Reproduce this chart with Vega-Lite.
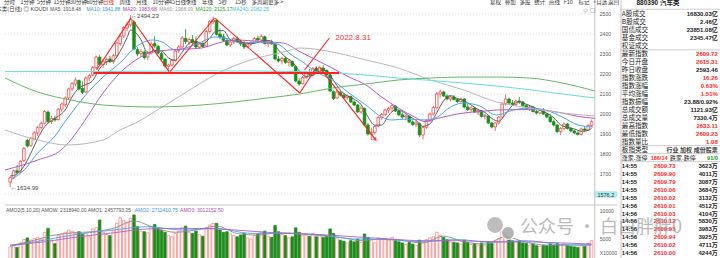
{
"$schema":"https://vega.github.io/schema/vega-lite/v6.json",
"width":720,"height":258,"autosize":{"type":"none"},"padding":0,"background":"#ffffff",
"config":{"view":{"stroke":null},"text":{"font":"Liberation Sans, Noto Sans CJK SC","baseline":"middle"},"axis":{"labelFont":"Liberation Sans"}},
"datasets":{
"k":[
{"i":0,"o":1660,"h":1688,"l":1634.99,"c":1682,"v":3600},{"i":1,"o":1684,"h":1722,"l":1676,"c":1716,"v":3900},{"i":2,"o":1716,"h":1745,"l":1700,"c":1708,"v":3500},{"i":3,"o":1710,"h":1770,"l":1705,"c":1762,"v":4300},{"i":4,"o":1768,"h":1835,"l":1760,"c":1828,"v":4900},{"i":5,"o":1868,"h":1875,"l":1832,"c":1840,"v":5200},{"i":6,"o":1842,"h":1885,"l":1836,"c":1878,"v":4800},{"i":7,"o":1876,"h":1915,"l":1868,"c":1906,"v":5100},{"i":8,"o":1905,"h":1940,"l":1890,"c":1932,"v":5300},{"i":9,"o":1932,"h":1962,"l":1922,"c":1952,"v":5000},
{"i":10,"o":1954,"h":2020,"l":1948,"c":2012,"v":6200},{"i":11,"o":2010,"h":2018,"l":1955,"c":1962,"v":6900},{"i":12,"o":1962,"h":1990,"l":1950,"c":1978,"v":4800},{"i":13,"o":1976,"h":1992,"l":1962,"c":1970,"v":4200},{"i":14,"o":1972,"h":2030,"l":1968,"c":2024,"v":5600},{"i":15,"o":2024,"h":2058,"l":2010,"c":2050,"v":5900},{"i":16,"o":2046,"h":2088,"l":2035,"c":2080,"v":6200},{"i":17,"o":2080,"h":2132,"l":2072,"c":2125,"v":6600},{"i":18,"o":2126,"h":2160,"l":2115,"c":2152,"v":6400},{"i":19,"o":2150,"h":2182,"l":2138,"c":2170,"v":6000},
{"i":20,"o":2168,"h":2172,"l":2118,"c":2125,"v":6300},{"i":21,"o":2128,"h":2162,"l":2100,"c":2108,"v":5800},{"i":22,"o":2110,"h":2188,"l":2105,"c":2180,"v":6100},{"i":23,"o":2180,"h":2200,"l":2165,"c":2192,"v":5400},{"i":24,"o":2194,"h":2240,"l":2188,"c":2232,"v":6800},{"i":25,"o":2232,"h":2292,"l":2225,"c":2285,"v":7000},{"i":26,"o":2284,"h":2296,"l":2240,"c":2248,"v":8400},{"i":27,"o":2246,"h":2275,"l":2230,"c":2262,"v":6200},{"i":28,"o":2262,"h":2282,"l":2245,"c":2272,"v":5800},{"i":29,"o":2275,"h":2290,"l":2255,"c":2262,"v":5600},
{"i":30,"o":2262,"h":2300,"l":2250,"c":2292,"v":6500},{"i":31,"o":2292,"h":2362,"l":2285,"c":2355,"v":7800},{"i":32,"o":2352,"h":2395,"l":2340,"c":2388,"v":8800},{"i":33,"o":2390,"h":2440,"l":2380,"c":2432,"v":8300},{"i":34,"o":2430,"h":2462,"l":2415,"c":2448,"v":8000},{"i":35,"o":2446,"h":2494.23,"l":2436,"c":2475,"v":8700},{"i":36,"o":2460,"h":2468,"l":2318,"c":2325,"v":9300},{"i":37,"o":2322,"h":2335,"l":2288,"c":2300,"v":7200},{"i":38,"o":2302,"h":2325,"l":2285,"c":2312,"v":6400},{"i":39,"o":2310,"h":2318,"l":2272,"c":2282,"v":6300},
{"i":40,"o":2285,"h":2315,"l":2270,"c":2305,"v":6100},{"i":41,"o":2305,"h":2362,"l":2298,"c":2350,"v":7300},{"i":42,"o":2352,"h":2390,"l":2330,"c":2340,"v":7600},{"i":43,"o":2338,"h":2345,"l":2298,"c":2305,"v":6800},{"i":44,"o":2302,"h":2310,"l":2268,"c":2275,"v":6500},{"i":45,"o":2274,"h":2282,"l":2232,"c":2240,"v":6200},{"i":46,"o":2238,"h":2252,"l":2222,"c":2245,"v":5600},{"i":47,"o":2245,"h":2275,"l":2238,"c":2268,"v":5400},{"i":48,"o":2268,"h":2320,"l":2262,"c":2315,"v":6000},{"i":49,"o":2318,"h":2345,"l":2305,"c":2335,"v":6400},
{"i":50,"o":2335,"h":2390,"l":2328,"c":2380,"v":7000},{"i":51,"o":2378,"h":2425,"l":2350,"c":2362,"v":7300},{"i":52,"o":2360,"h":2382,"l":2345,"c":2372,"v":6200},{"i":53,"o":2372,"h":2395,"l":2352,"c":2360,"v":6000},{"i":54,"o":2362,"h":2388,"l":2328,"c":2335,"v":6400},{"i":55,"o":2335,"h":2362,"l":2325,"c":2350,"v":5800},{"i":56,"o":2348,"h":2360,"l":2330,"c":2338,"v":5500},{"i":57,"o":2340,"h":2420,"l":2335,"c":2412,"v":6900},{"i":58,"o":2412,"h":2470,"l":2405,"c":2462,"v":7500},{"i":59,"o":2462,"h":2486,"l":2448,"c":2470,"v":7800},
{"i":60,"o":2468,"h":2472,"l":2392,"c":2398,"v":7800},{"i":61,"o":2400,"h":2428,"l":2375,"c":2385,"v":6600},{"i":62,"o":2386,"h":2402,"l":2360,"c":2368,"v":6200},{"i":63,"o":2368,"h":2380,"l":2338,"c":2345,"v":6300},{"i":64,"o":2345,"h":2372,"l":2335,"c":2360,"v":5900},{"i":65,"o":2360,"h":2385,"l":2350,"c":2378,"v":5600},{"i":66,"o":2376,"h":2388,"l":2355,"c":2362,"v":5400},{"i":67,"o":2360,"h":2372,"l":2340,"c":2350,"v":5700},{"i":68,"o":2352,"h":2366,"l":2325,"c":2335,"v":6000},{"i":69,"o":2335,"h":2358,"l":2328,"c":2350,"v":5200},
{"i":70,"o":2350,"h":2365,"l":2340,"c":2358,"v":5000},{"i":71,"o":2358,"h":2385,"l":2352,"c":2378,"v":5600},{"i":72,"o":2378,"h":2392,"l":2362,"c":2370,"v":5900},{"i":73,"o":2370,"h":2398,"l":2360,"c":2388,"v":6200},{"i":74,"o":2386,"h":2392,"l":2348,"c":2352,"v":6400},{"i":75,"o":2352,"h":2368,"l":2335,"c":2360,"v":5500},{"i":76,"o":2360,"h":2372,"l":2345,"c":2350,"v":5300},{"i":77,"o":2350,"h":2356,"l":2268,"c":2275,"v":7400},{"i":78,"o":2275,"h":2290,"l":2258,"c":2265,"v":6300},{"i":79,"o":2266,"h":2285,"l":2248,"c":2278,"v":5800},
{"i":80,"o":2278,"h":2288,"l":2250,"c":2258,"v":5600},{"i":81,"o":2258,"h":2275,"l":2238,"c":2265,"v":5200},{"i":82,"o":2262,"h":2268,"l":2235,"c":2240,"v":5400},{"i":83,"o":2238,"h":2242,"l":2158,"c":2165,"v":7000},{"i":84,"o":2165,"h":2180,"l":2140,"c":2150,"v":6200},{"i":85,"o":2152,"h":2190,"l":2148,"c":2182,"v":5600},{"i":86,"o":2182,"h":2215,"l":2175,"c":2205,"v":5700},{"i":87,"o":2205,"h":2225,"l":2190,"c":2198,"v":5500},{"i":88,"o":2198,"h":2235,"l":2195,"c":2228,"v":6000},{"i":89,"o":2228,"h":2238,"l":2205,"c":2212,"v":5400},
{"i":90,"o":2212,"h":2242,"l":2205,"c":2232,"v":5600},{"i":91,"o":2230,"h":2245,"l":2210,"c":2218,"v":5300},{"i":92,"o":2218,"h":2222,"l":2188,"c":2195,"v":5500},{"i":93,"o":2195,"h":2200,"l":2108,"c":2115,"v":6800},{"i":94,"o":2112,"h":2118,"l":2070,"c":2078,"v":6000},{"i":95,"o":2080,"h":2120,"l":2075,"c":2110,"v":5200},{"i":96,"o":2108,"h":2115,"l":2088,"c":2095,"v":4800},{"i":97,"o":2095,"h":2105,"l":2075,"c":2082,"v":4600},{"i":98,"o":2082,"h":2098,"l":2070,"c":2090,"v":4300},{"i":99,"o":2088,"h":2092,"l":2055,"c":2060,"v":4700},
{"i":100,"o":2060,"h":2068,"l":2040,"c":2045,"v":4500},{"i":101,"o":2045,"h":2050,"l":2005,"c":2010,"v":5000},{"i":102,"o":2010,"h":2038,"l":2002,"c":2030,"v":4400},{"i":103,"o":2028,"h":2032,"l":1940,"c":1945,"v":5900},{"i":104,"o":1945,"h":1955,"l":1892,"c":1900,"v":5300},{"i":105,"o":1898,"h":1932,"l":1870,"c":1908,"v":5000},{"i":106,"o":1908,"h":1945,"l":1900,"c":1938,"v":4300},{"i":107,"o":1940,"h":1990,"l":1935,"c":1982,"v":5200},{"i":108,"o":1982,"h":2005,"l":1970,"c":1998,"v":4900},{"i":109,"o":1998,"h":2028,"l":1990,"c":2020,"v":5100},
{"i":110,"o":2020,"h":2035,"l":2005,"c":2028,"v":4800},{"i":111,"o":2030,"h":2048,"l":2010,"c":2042,"v":5300},{"i":112,"o":2040,"h":2045,"l":2010,"c":2015,"v":4700},{"i":113,"o":2015,"h":2022,"l":1990,"c":1996,"v":4500},{"i":114,"o":1996,"h":2008,"l":1975,"c":1985,"v":4300},{"i":115,"o":1985,"h":1998,"l":1968,"c":1990,"v":4000},{"i":116,"o":1988,"h":1992,"l":1955,"c":1960,"v":4400},{"i":117,"o":1960,"h":1968,"l":1940,"c":1948,"v":4100},{"i":118,"o":1948,"h":1965,"l":1935,"c":1955,"v":3900},{"i":119,"o":1952,"h":1958,"l":1885,"c":1895,"v":4800},
{"i":120,"o":1895,"h":1940,"l":1872,"c":1932,"v":4600},{"i":121,"o":1932,"h":1975,"l":1925,"c":1968,"v":4900},{"i":122,"o":1968,"h":2008,"l":1960,"c":2000,"v":5200},{"i":123,"o":2000,"h":2040,"l":1992,"c":2032,"v":5400},{"i":124,"o":2032,"h":2110,"l":2025,"c":2100,"v":6200},{"i":125,"o":2100,"h":2122,"l":2082,"c":2110,"v":5700},{"i":126,"o":2110,"h":2116,"l":2085,"c":2090,"v":5300},{"i":127,"o":2090,"h":2098,"l":2068,"c":2075,"v":4900},{"i":128,"o":2075,"h":2092,"l":2062,"c":2085,"v":4500},{"i":129,"o":2085,"h":2095,"l":2068,"c":2072,"v":4400},
{"i":130,"o":2072,"h":2080,"l":2055,"c":2062,"v":4300},{"i":131,"o":2062,"h":2082,"l":2058,"c":2075,"v":4100},{"i":132,"o":2075,"h":2080,"l":2028,"c":2035,"v":4800},{"i":133,"o":2035,"h":2052,"l":2015,"c":2022,"v":4400},{"i":134,"o":2022,"h":2040,"l":2010,"c":2030,"v":4000},{"i":135,"o":2030,"h":2035,"l":2005,"c":2010,"v":4200},{"i":136,"o":2010,"h":2025,"l":1995,"c":2018,"v":3900},{"i":137,"o":2016,"h":2020,"l":1982,"c":1988,"v":4300},{"i":138,"o":1988,"h":2000,"l":1972,"c":1992,"v":3800},{"i":139,"o":1990,"h":1994,"l":1950,"c":1955,"v":4500},
{"i":140,"o":1955,"h":1960,"l":1928,"c":1935,"v":4200},{"i":141,"o":1935,"h":1962,"l":1915,"c":1955,"v":4600},{"i":142,"o":1955,"h":1990,"l":1948,"c":1985,"v":5000},{"i":143,"o":1985,"h":2060,"l":1980,"c":2050,"v":6300},{"i":144,"o":2050,"h":2098,"l":2042,"c":2075,"v":5800},{"i":145,"o":2075,"h":2082,"l":2045,"c":2055,"v":5100},{"i":146,"o":2055,"h":2070,"l":2040,"c":2048,"v":4700},{"i":147,"o":2048,"h":2072,"l":2040,"c":2065,"v":4500},{"i":148,"o":2065,"h":2085,"l":2050,"c":2060,"v":4700},{"i":149,"o":2060,"h":2065,"l":2035,"c":2042,"v":4300},
{"i":150,"o":2042,"h":2050,"l":2020,"c":2028,"v":4200},{"i":151,"o":2028,"h":2040,"l":2015,"c":2035,"v":3900},{"i":152,"o":2035,"h":2038,"l":2008,"c":2012,"v":4100},{"i":153,"o":2012,"h":2020,"l":1998,"c":2005,"v":3800},{"i":154,"o":2005,"h":2025,"l":2000,"c":2018,"v":3700},{"i":155,"o":2018,"h":2030,"l":1996,"c":2000,"v":3900},{"i":156,"o":2000,"h":2005,"l":1980,"c":1985,"v":3800},{"i":157,"o":1985,"h":1998,"l":1955,"c":1962,"v":4100},{"i":158,"o":1962,"h":1972,"l":1938,"c":1945,"v":3900},{"i":159,"o":1945,"h":1950,"l":1905,"c":1912,"v":4200},
{"i":160,"o":1912,"h":1935,"l":1895,"c":1928,"v":4000},{"i":161,"o":1928,"h":1958,"l":1920,"c":1950,"v":4100},{"i":162,"o":1950,"h":1955,"l":1922,"c":1928,"v":3800},{"i":163,"o":1928,"h":1935,"l":1908,"c":1915,"v":3700},{"i":164,"o":1915,"h":1922,"l":1898,"c":1905,"v":3600},{"i":165,"o":1905,"h":1915,"l":1892,"c":1898,"v":3500},{"i":166,"o":1898,"h":1932,"l":1892,"c":1925,"v":3900},{"i":167,"o":1925,"h":1940,"l":1910,"c":1920,"v":3700},{"i":168,"o":1920,"h":1948,"l":1915,"c":1942,"v":4200},{"i":169,"o":1942,"h":1972,"l":1935,"c":1962,"v":4700}
],
"ma":[
{"s":"MA5","i":0,"v":1690},{"s":"MA5","i":2,"v":1700},{"s":"MA5","i":4,"v":1739},{"s":"MA5","i":6,"v":1803},{"s":"MA5","i":8,"v":1877},{"s":"MA5","i":10,"v":1936},{"s":"MA5","i":12,"v":1967},{"s":"MA5","i":14,"v":1989},{"s":"MA5","i":16,"v":2020},{"s":"MA5","i":18,"v":2086},{"s":"MA5","i":20,"v":2130},{"s":"MA5","i":22,"v":2147},{"s":"MA5","i":24,"v":2167},{"s":"MA5","i":26,"v":2227},{"s":"MA5","i":28,"v":2260},{"s":"MA5","i":30,"v":2267},{"s":"MA5","i":32,"v":2314},{"s":"MA5","i":34,"v":2383},{"s":"MA5","i":35,"v":2420},{"s":"MA5","i":36,"v":2414},{"s":"MA5","i":38,"v":2372},{"s":"MA5","i":40,"v":2305},{"s":"MA5","i":42,"v":2318},{"s":"MA5","i":44,"v":2315},{"s":"MA5","i":46,"v":2281},{"s":"MA5","i":48,"v":2269},{"s":"MA5","i":50,"v":2309},{"s":"MA5","i":52,"v":2353},{"s":"MA5","i":54,"v":2362},{"s":"MA5","i":56,"v":2351},{"s":"MA5","i":58,"v":2379},{"s":"MA5","i":60,"v":2416},{"s":"MA5","i":62,"v":2417},{"s":"MA5","i":64,"v":2371},{"s":"MA5","i":66,"v":2363},{"s":"MA5","i":68,"v":2357},{"s":"MA5","i":70,"v":2351},{"s":"MA5","i":72,"v":2358},{"s":"MA5","i":74,"v":2369},{"s":"MA5","i":76,"v":2364},{"s":"MA5","i":78,"v":2320},{"s":"MA5","i":80,"v":2285},{"s":"MA5","i":82,"v":2261},{"s":"MA5","i":84,"v":2216},{"s":"MA5","i":86,"v":2188},{"s":"MA5","i":88,"v":2193},{"s":"MA5","i":90,"v":2215},{"s":"MA5","i":92,"v":2217},{"s":"MA5","i":94,"v":2168},{"s":"MA5","i":96,"v":2119},{"s":"MA5","i":98,"v":2091},{"s":"MA5","i":100,"v":2074},{"s":"MA5","i":102,"v":2047},{"s":"MA5","i":104,"v":1986},{"s":"MA5","i":106,"v":1944},{"s":"MA5","i":108,"v":1945},{"s":"MA5","i":110,"v":1993},{"s":"MA5","i":112,"v":2021},{"s":"MA5","i":114,"v":2013},{"s":"MA5","i":116,"v":1989},{"s":"MA5","i":118,"v":1968},{"s":"MA5","i":120,"v":1938},{"s":"MA5","i":122,"v":1950},{"s":"MA5","i":124,"v":2006},{"s":"MA5","i":126,"v":2066},{"s":"MA5","i":128,"v":2092},{"s":"MA5","i":130,"v":2077},{"s":"MA5","i":132,"v":2066},{"s":"MA5","i":134,"v":2045},{"s":"MA5","i":136,"v":2023},{"s":"MA5","i":138,"v":2008},{"s":"MA5","i":140,"v":1978},{"s":"MA5","i":142,"v":1964},{"s":"MA5","i":144,"v":2000},{"s":"MA5","i":146,"v":2043},{"s":"MA5","i":148,"v":2061},{"s":"MA5","i":150,"v":2049},{"s":"MA5","i":152,"v":2035},{"s":"MA5","i":154,"v":2020},{"s":"MA5","i":156,"v":2004},{"s":"MA5","i":158,"v":1982},{"s":"MA5","i":160,"v":1946},{"s":"MA5","i":162,"v":1933},{"s":"MA5","i":164,"v":1925},{"s":"MA5","i":166,"v":1914},{"s":"MA5","i":168,"v":1918},{"s":"MA5","i":169,"v":1929},
{"s":"MA10","i":0.5,"v":1675},{"s":"MA10","i":4.2,"v":1722},{"s":"MA10","i":8,"v":1805},{"s":"MA10","i":12.8,"v":1885},{"s":"MA10","i":16.5,"v":1975},{"s":"MA10","i":17.6,"v":2000},{"s":"MA10","i":22.2,"v":2100},{"s":"MA10","i":27,"v":2185},{"s":"MA10","i":31.9,"v":2255},{"s":"MA10","i":36.5,"v":2335},{"s":"MA10","i":41.4,"v":2370},{"s":"MA10","i":44.2,"v":2360},{"s":"MA10","i":48,"v":2320},{"s":"MA10","i":51.9,"v":2335},{"s":"MA10","i":55.6,"v":2360},{"s":"MA10","i":59.4,"v":2385},{"s":"MA10","i":63.4,"v":2375},{"s":"MA10","i":67.1,"v":2355},{"s":"MA10","i":72.8,"v":2358},{"s":"MA10","i":77.6,"v":2350},{"s":"MA10","i":82.2,"v":2290},{"s":"MA10","i":84.2,"v":2270},{"s":"MA10","i":89,"v":2210},{"s":"MA10","i":93.6,"v":2170},{"s":"MA10","i":98.5,"v":2105},{"s":"MA10","i":103.4,"v":2045},{"s":"MA10","i":108,"v":1985},{"s":"MA10","i":110.8,"v":1970},{"s":"MA10","i":115.6,"v":1975},{"s":"MA10","i":120.5,"v":1970},{"s":"MA10","i":124.2,"v":1985},{"s":"MA10","i":128,"v":2035},{"s":"MA10","i":131.9,"v":2055},{"s":"MA10","i":136.5,"v":2040},{"s":"MA10","i":141.4,"v":1995},{"s":"MA10","i":146.2,"v":2020},{"s":"MA10","i":150.8,"v":2030},{"s":"MA10","i":155.6,"v":2020},{"s":"MA10","i":160.5,"v":1985},{"s":"MA10","i":165.1,"v":1945},{"s":"MA10","i":169.4,"v":1935},
{"s":"MA20","i":-1.5,"v":1720},{"s":"MA20","i":8,"v":1770},{"s":"MA20","i":14.8,"v":1820},{"s":"MA20","i":17.6,"v":1870},{"s":"MA20","i":21.4,"v":1960},{"s":"MA20","i":27,"v":2105},{"s":"MA20","i":31.9,"v":2205},{"s":"MA20","i":36.5,"v":2270},{"s":"MA20","i":41.4,"v":2310},{"s":"MA20","i":46.2,"v":2320},{"s":"MA20","i":55.6,"v":2330},{"s":"MA20","i":60.5,"v":2355},{"s":"MA20","i":65,"v":2370},{"s":"MA20","i":74.8,"v":2360},{"s":"MA20","i":79.4,"v":2355},{"s":"MA20","i":84.2,"v":2312},{"s":"MA20","i":89,"v":2270},{"s":"MA20","i":93.6,"v":2230},{"s":"MA20","i":98.5,"v":2185},{"s":"MA20","i":103.4,"v":2145},{"s":"MA20","i":108,"v":2085},{"s":"MA20","i":112.8,"v":2030},{"s":"MA20","i":117.6,"v":1985},{"s":"MA20","i":120.5,"v":1962},{"s":"MA20","i":124.2,"v":1978},{"s":"MA20","i":131.9,"v":2005},{"s":"MA20","i":136.5,"v":2012},{"s":"MA20","i":141.4,"v":2020},{"s":"MA20","i":150.8,"v":2022},{"s":"MA20","i":155.6,"v":2018},{"s":"MA20","i":160.5,"v":2005},{"s":"MA20","i":165.1,"v":1988},{"s":"MA20","i":170,"v":1978},
{"s":"MA60","i":-1.5,"v":1920},{"s":"MA60","i":8,"v":1870},{"s":"MA60","i":16.5,"v":1845},{"s":"MA60","i":27,"v":1870},{"s":"MA60","i":31.9,"v":1920},{"s":"MA60","i":36.5,"v":1955},{"s":"MA60","i":41.4,"v":2005},{"s":"MA60","i":50.8,"v":2105},{"s":"MA60","i":60.5,"v":2205},{"s":"MA60","i":69.9,"v":2270},{"s":"MA60","i":79.4,"v":2310},{"s":"MA60","i":84.2,"v":2330},{"s":"MA60","i":93.6,"v":2310},{"s":"MA60","i":103.4,"v":2270},{"s":"MA60","i":112.8,"v":2230},{"s":"MA60","i":122.2,"v":2170},{"s":"MA60","i":131.9,"v":2120},{"s":"MA60","i":141.4,"v":2060},{"s":"MA60","i":150.8,"v":2030},{"s":"MA60","i":160.5,"v":2005},{"s":"MA60","i":170,"v":1990},
{"s":"MA120","i":-1.5,"v":2180},{"s":"MA120","i":8,"v":2110},{"s":"MA120","i":17.6,"v":2070},{"s":"MA120","i":27,"v":2045},{"s":"MA120","i":41.4,"v":2035},{"s":"MA120","i":55.6,"v":2045},{"s":"MA120","i":65,"v":2060},{"s":"MA120","i":74.8,"v":2080},{"s":"MA120","i":84.2,"v":2100},{"s":"MA120","i":93.6,"v":2130},{"s":"MA120","i":103.4,"v":2150},{"s":"MA120","i":112.8,"v":2170},{"s":"MA120","i":122.2,"v":2180},{"s":"MA120","i":131.9,"v":2185},{"s":"MA120","i":141.4,"v":2185},{"s":"MA120","i":150.8,"v":2180},{"s":"MA120","i":160.5,"v":2155},{"s":"MA120","i":170,"v":2115},
{"s":"MA240","i":-1.5,"v":2212},{"s":"MA240","i":27,"v":2212},{"s":"MA240","i":55.6,"v":2216},{"s":"MA240","i":84.2,"v":2212},{"s":"MA240","i":93.6,"v":2205},{"s":"MA240","i":103.4,"v":2195},{"s":"MA240","i":112.8,"v":2180},{"s":"MA240","i":122.2,"v":2168},{"s":"MA240","i":131.9,"v":2155},{"s":"MA240","i":141.4,"v":2140},{"s":"MA240","i":150.8,"v":2122},{"s":"MA240","i":160.5,"v":2100},{"s":"MA240","i":170,"v":2080}
],
"vma":[
{"s":"AMO1","i":0,"v":3800},{"s":"AMO1","i":6,"v":4600},{"s":"AMO1","i":12,"v":5600},{"s":"AMO1","i":18,"v":6100},{"s":"AMO1","i":24,"v":6300},{"s":"AMO1","i":30,"v":6900},{"s":"AMO1","i":36,"v":8200},{"s":"AMO1","i":42,"v":7000},{"s":"AMO1","i":48,"v":6200},{"s":"AMO1","i":54,"v":6600},{"s":"AMO1","i":60,"v":7300},{"s":"AMO1","i":66,"v":6000},{"s":"AMO1","i":72,"v":5700},{"s":"AMO1","i":78,"v":6100},{"s":"AMO1","i":84,"v":6000},{"s":"AMO1","i":90,"v":5600},{"s":"AMO1","i":96,"v":5300},{"s":"AMO1","i":102,"v":4700},{"s":"AMO1","i":108,"v":5000},{"s":"AMO1","i":114,"v":4700},{"s":"AMO1","i":120,"v":4300},{"s":"AMO1","i":126,"v":5500},{"s":"AMO1","i":132,"v":4500},{"s":"AMO1","i":138,"v":4100},{"s":"AMO1","i":144,"v":5400},{"s":"AMO1","i":150,"v":4400},{"s":"AMO1","i":156,"v":3900},{"s":"AMO1","i":162,"v":3900},{"s":"AMO1","i":169,"v":4000},
{"s":"AMO2","i":0,"v":3700},{"s":"AMO2","i":10,"v":4800},{"s":"AMO2","i":20,"v":5900},{"s":"AMO2","i":30,"v":6600},{"s":"AMO2","i":40,"v":7200},{"s":"AMO2","i":50,"v":6600},{"s":"AMO2","i":60,"v":6900},{"s":"AMO2","i":70,"v":6000},{"s":"AMO2","i":80,"v":6000},{"s":"AMO2","i":90,"v":5700},{"s":"AMO2","i":100,"v":5000},{"s":"AMO2","i":110,"v":4900},{"s":"AMO2","i":120,"v":4500},{"s":"AMO2","i":130,"v":4900},{"s":"AMO2","i":140,"v":4400},{"s":"AMO2","i":150,"v":4700},{"s":"AMO2","i":160,"v":4000},{"s":"AMO2","i":169,"v":3900},
{"s":"AMO3","i":0,"v":3900},{"s":"AMO3","i":10,"v":4500},{"s":"AMO3","i":20,"v":5400},{"s":"AMO3","i":30,"v":6100},{"s":"AMO3","i":40,"v":6800},{"s":"AMO3","i":50,"v":6900},{"s":"AMO3","i":60,"v":6800},{"s":"AMO3","i":70,"v":6400},{"s":"AMO3","i":80,"v":6000},{"s":"AMO3","i":90,"v":5800},{"s":"AMO3","i":100,"v":5400},{"s":"AMO3","i":110,"v":5000},{"s":"AMO3","i":120,"v":4700},{"s":"AMO3","i":130,"v":4700},{"s":"AMO3","i":140,"v":4500},{"s":"AMO3","i":150,"v":4500},{"s":"AMO3","i":160,"v":4300},{"s":"AMO3","i":169,"v":4100}
],
"levels":[{"p":1600},{"p":1700},{"p":1800},{"p":1900},{"p":2000},{"p":2100},{"p":2200},{"p":2300},{"p":2400},{"p":2500}],
"vticks":[{"v":10000,"t":"10000"},{"v":5000,"t":"5000"},{"v":2500,"t":"X10000"}],
"zig":[{"a":25.1,"pa":2220,"b":35.1,"pb":2478},{"a":35.6,"pa":2470,"b":46.2,"pb":2212},{"a":46.5,"pa":2212,"b":59.4,"pb":2480},{"a":59.6,"pa":2478,"b":84.2,"pb":2105},{"a":84.2,"pa":2105,"b":89.1,"pb":2235},{"a":85.6,"pa":2220,"b":92.8,"pb":2380},{"a":90,"pa":2232,"b":106.2,"pb":1872}],
"hl":[{"a":24.2,"b":95.6,"p":2205}],
"extremes":[{"i":35,"p":2494.23,"t":"←2494.23"},{"i":0,"p":1634.99,"t":"←1634.99"}],
"note":[{"t":"2022.8.31"}],
"icons":[{"t":"◇ □"}],
"cursor":[{"t":"1576.2"}],
"vleg":[{"s":"AMO1","t":"AMO2(5,10,20)  AMOW: 2318940.00  AMO1: 2457793.25"},{"s":"AMO2","t":"AMO2: 2711410.75"},{"s":"AMO3","t":"AMO3: 3012152.50"}],
"tools":[{"t":"分时"},{"t":"1分钟"},{"t":"5分钟"},{"t":"15分钟"},{"t":"30分钟"},{"t":"60分钟"},{"t":"日线","on":true},{"t":"周线"},{"t":"月线"},{"t":"10分钟"},{"t":"45日线"},{"t":"季线"},{"t":"年线"},{"t":"5秒"},{"t":"15秒"},{"t":"多周期"},{"t":"更多 >"}],
"tools2":[{"t":"复权"},{"t":"叠加"},{"t":"多股"},{"t":"统计"},{"t":"画线"},{"t":"F10"},{"t":"标记"},{"t":"+自选"},{"t":"返回"}],
"maleg":[{"s":"MA5","t":"MA5: 1918.48"},{"s":"MA10","t":"MA10: 1941.88"},{"s":"MA20","t":"MA20: 1983.68"},{"s":"MA60","t":"MA60: 1988.09"},{"s":"MA120","t":"MA120: 2125.17"},{"s":"MA240","t":"MA240: 2082.25"}],
"pre":[{"t":"汽车类(日线) ◎ KOUDI"}],
"ttl":[{"t":"880390 汽车类"}],
"info":[{"n":1,"k":"A股成交","v":"16830.03亿","d":"flat"},{"n":2,"k":"B股成交","v":"2.46亿","d":"flat"},{"n":3,"k":"国债成交","v":"23851.08亿","d":"flat"},{"n":4,"k":"基金成交","v":"2345.47亿","d":"flat"},{"n":5,"k":"权证成交","v":"","d":"flat"},{"n":6,"k":"最新指数","v":"2609.72","d":"up"},{"n":7,"k":"今日开盘","v":"2615.31","d":"up"},{"n":8,"k":"昨日收盘","v":"2593.46","d":"flat"},{"n":9,"k":"指数涨跌","v":"16.26","d":"up"},{"n":10,"k":"指数涨幅","v":"0.63%","d":"up"},{"n":11,"k":"平均涨幅","v":"1.51%","d":"up"},{"n":12,"k":"指数振幅","v":"23.88/0.92%","d":"flat"},{"n":13,"k":"总成交额","v":"1121.93亿","d":"flat"},{"n":14,"k":"总成交量","v":"7330.4万","d":"flat"},{"n":15,"k":"最高指数","v":"2633.11","d":"up"},{"n":16,"k":"最低指数","v":"2609.23","d":"up"},{"n":17,"k":"指数量比","v":"1.08","d":"up"},{"n":18,"k":"板指类型","v":"行业 加权 成份股票","d":"note"}],
"breadth":[{"n":19,"k":"涨家.涨停","v":"186/14","d":"up"},{"n":19,"k":"跌家.跌停","v":"91/0","d":"down"}],
"ticks":[{"n":20,"t":"14:55","p":"2609.73","v":"3623万"},{"n":21,"t":"14:55","p":"2609.90","v":"4011万"},{"n":22,"t":"14:55","p":"2609.79","v":"3087万"},{"n":23,"t":"14:55","p":"2610.06","v":"3684万"},{"n":24,"t":"14:55","p":"2610.02","v":"3132万"},{"n":25,"t":"14:56","p":"2610.01","v":"4512万"},{"n":26,"t":"14:56","p":"2610.03","v":"4104万"},{"n":27,"t":"14:56","p":"2610.12","v":"5830万"},{"n":28,"t":"14:56","p":"2609.93","v":"3983万"},{"n":29,"t":"14:56","p":"2609.94","v":"3925万"},{"n":30,"t":"14:56","p":"2610.02","v":"4711万"},{"n":31,"t":"14:56","p":"2610.00","v":"4244万"}],
"seps":[{"n":0.4},{"n":5.5},{"n":17.5},{"n":18.5},{"n":19.5}],
"wm":[{"t":"公众号 · 白白胖胖0"}]
},
"resolve":{"scale":{"x":"independent","y":"independent","color":"independent"},"axis":{"x":"independent","y":"independent"}},
"layer":[
{"layer":[
 {"data":{"name":"levels"},"mark":{"type":"rule","stroke":"#d2d2d2","strokeDash":[1,2],"strokeWidth":0.8},
  "encoding":{"y":{"field":"p","type":"quantitative","scale":{"domain":[1545,2510],"range":[205,12],"nice":false,"zero":false},"axis":null},
   "x":{"datum":-1.5,"type":"quantitative","scale":{"domain":[-1.5,170],"range":[0,600],"nice":false,"zero":false},"axis":null},
   "x2":{"datum":170}}},
 {"data":{"name":"levels"},"transform":[{"filter":"datum.p >= 1700"}],"mark":{"type":"text","align":"left","dx":5,"fontSize":5,"font":"Liberation Sans","fill":"#555555"},
  "encoding":{"y":{"field":"p","type":"quantitative","scale":{"domain":[1545,2510],"range":[205,12],"nice":false,"zero":false},"axis":null},
   "x":{"datum":169.95,"type":"quantitative","scale":{"domain":[-1.5,170],"range":[0,600],"nice":false,"zero":false},"axis":null},
   "text":{"field":"p","type":"quantitative","format":"d"}}},
 {"data":{"name":"cursor"},"mark":{"type":"rule","stroke":"#c4c4c4","strokeWidth":1},
  "encoding":{"x":{"datum":169.95,"type":"quantitative","scale":{"domain":[-1.5,170],"range":[0,600],"nice":false,"zero":false},"axis":null},
   "y":{"datum":1545,"type":"quantitative","scale":{"domain":[1545,2510],"range":[205,12],"nice":false,"zero":false},"axis":null},
   "y2":{"datum":2570}}},
 {"data":{"name":"k"},"mark":{"type":"rule","strokeWidth":0.8},
  "encoding":{"x":{"field":"i","type":"quantitative","scale":{"domain":[-1.5,170],"range":[0,600],"nice":false,"zero":false},"axis":null},
   "y":{"field":"l","type":"quantitative","scale":{"domain":[1545,2510],"range":[205,12],"nice":false,"zero":false},"axis":null},
   "y2":{"field":"h"},
   "stroke":{"condition":{"test":"datum.c >= datum.o","value":"#f04848"},"value":"#16901a"}}},
 {"data":{"name":"k"},"mark":{"type":"bar","width":2.6,"strokeWidth":0.8},
  "encoding":{"x":{"field":"i","type":"quantitative","scale":{"domain":[-1.5,170],"range":[0,600],"nice":false,"zero":false},"axis":null},
   "y":{"field":"o","type":"quantitative","scale":{"domain":[1545,2510],"range":[205,12],"nice":false,"zero":false},"axis":null},
   "y2":{"field":"c"},
   "fill":{"condition":{"test":"datum.c >= datum.o","value":"#ffffff"},"value":"#16901a"},
   "stroke":{"condition":{"test":"datum.c >= datum.o","value":"#f04848"},"value":"#16901a"}}},
 {"data":{"name":"ma"},"mark":{"type":"line","strokeWidth":1,"interpolate":"monotone","clip":true},
  "encoding":{"x":{"field":"i","type":"quantitative","scale":{"domain":[-1.5,170],"range":[0,600],"nice":false,"zero":false},"axis":null},
   "y":{"field":"v","type":"quantitative","scale":{"domain":[1545,2510],"range":[205,12],"nice":false,"zero":false},"axis":null},
   "color":{"field":"s","type":"nominal","scale":{"domain":["MA5","MA10","MA20","MA60","MA120","MA240"],"range":["#5c5c5c","#4da3f0","#b55ccc","#b8b8b8","#66b866","#66dcdc"]},"legend":null}}},
 {"data":{"name":"zig"},"mark":{"type":"rule","stroke":"#ff2020","strokeWidth":1.1},
  "encoding":{"x":{"field":"a","type":"quantitative","scale":{"domain":[-1.5,170],"range":[0,600],"nice":false,"zero":false},"axis":null},
   "y":{"field":"pa","type":"quantitative","scale":{"domain":[1545,2510],"range":[205,12],"nice":false,"zero":false},"axis":null},
   "x2":{"field":"b"},"y2":{"field":"pb"}}},
 {"data":{"name":"hl"},"mark":{"type":"rule","stroke":"#ff2020","strokeWidth":2},
  "encoding":{"x":{"field":"a","type":"quantitative","scale":{"domain":[-1.5,170],"range":[0,600],"nice":false,"zero":false},"axis":null},
   "x2":{"field":"b"},
   "y":{"field":"p","type":"quantitative","scale":{"domain":[1545,2510],"range":[205,12],"nice":false,"zero":false},"axis":null}}},
 {"data":{"name":"note"},"mark":{"type":"point","shape":"triangle-down","size":22,"filled":true,"color":"#ff2020","angle":322},
  "encoding":{"x":{"datum":106.2,"type":"quantitative","scale":{"domain":[-1.5,170],"range":[0,600],"nice":false,"zero":false},"axis":null},
   "y":{"datum":1872,"type":"quantitative","scale":{"domain":[1545,2510],"range":[205,12],"nice":false,"zero":false},"axis":null}}},
 {"data":{"name":"extremes"},"mark":{"type":"text","align":"left","fontSize":6,"fill":"#444444","dx":0.5,"dy":1},
  "encoding":{"x":{"field":"i","type":"quantitative","scale":{"domain":[-1.5,170],"range":[0,600],"nice":false,"zero":false},"axis":null},
   "y":{"field":"p","type":"quantitative","scale":{"domain":[1545,2510],"range":[205,12],"nice":false,"zero":false},"axis":null},
   "text":{"field":"t"}}},
 {"data":{"name":"note"},"mark":{"type":"text","align":"left","fontSize":8,"fill":"#ff3030"},
  "encoding":{"x":{"datum":94.5,"type":"quantitative","scale":{"domain":[-1.5,170],"range":[0,600],"nice":false,"zero":false},"axis":null},
   "y":{"datum":2378,"type":"quantitative","scale":{"domain":[1545,2510],"range":[205,12],"nice":false,"zero":false},"axis":null},
   "text":{"field":"t"}}},
 {"data":{"name":"icons"},"mark":{"type":"text","align":"left","fontSize":6,"font":"DejaVu Sans","fill":"#777777"},
  "encoding":{"x":{"datum":166.6,"type":"quantitative","scale":{"domain":[-1.5,170],"range":[0,600],"nice":false,"zero":false},"axis":null},
   "y":{"datum":2520,"type":"quantitative","scale":{"domain":[1545,2510],"range":[205,12],"nice":false,"zero":false},"axis":null},
   "text":{"field":"t"}}},
 {"data":{"name":"cursor"},"mark":{"type":"rect","fill":"#b2f2f2","stroke":"#88d8d8","strokeWidth":0.6},
  "encoding":{"x":{"datum":170.1,"type":"quantitative","scale":{"domain":[-1.5,170],"range":[0,600],"nice":false,"zero":false},"axis":null},
   "x2":{"datum":176.3},
   "y":{"datum":1611,"type":"quantitative","scale":{"domain":[1545,2510],"range":[205,12],"nice":false,"zero":false},"axis":null},
   "y2":{"datum":1584}}},
 {"data":{"name":"cursor"},"mark":{"type":"text","align":"left","fontSize":5.5,"fill":"#333333"},
  "encoding":{"x":{"datum":170.7,"type":"quantitative","scale":{"domain":[-1.5,170],"range":[0,600],"nice":false,"zero":false},"axis":null},
   "y":{"datum":1597.5,"type":"quantitative","scale":{"domain":[1545,2510],"range":[205,12],"nice":false,"zero":false},"axis":null},
   "text":{"field":"t"}}}
]},
{"layer":[
 {"data":{"name":"k"},"mark":{"type":"bar","width":2.6,"strokeWidth":0.7},
  "encoding":{"x":{"field":"i","type":"quantitative","scale":{"domain":[-1.5,170],"range":[0,600],"nice":false,"zero":false},"axis":null},
   "y":{"field":"v","type":"quantitative","scale":{"domain":[0,11070],"range":[267,205],"nice":false},"axis":null},
   "fill":{"condition":{"test":"datum.c >= datum.o","value":"#ffffff"},"value":"#1e8c1e"},
   "stroke":{"condition":{"test":"datum.c >= datum.o","value":"#ff7878"},"value":"#1e8c1e"}}},
 {"data":{"name":"vma"},"mark":{"type":"line","strokeWidth":0.9,"interpolate":"monotone"},
  "encoding":{"x":{"field":"i","type":"quantitative","scale":{"domain":[-1.5,170],"range":[0,600],"nice":false,"zero":false},"axis":null},
   "y":{"field":"v","type":"quantitative","scale":{"domain":[0,11070],"range":[267,205],"nice":false},"axis":null},
   "color":{"field":"s","type":"nominal","scale":{"domain":["AMO1","AMO2","AMO3"],"range":["#8a8a8a","#4d9ff0","#b060c0"]},"legend":null}}},
 {"data":{"name":"cursor"},"mark":{"type":"rule","stroke":"#c4c4c4","strokeWidth":1},
  "encoding":{"x":{"datum":-1.5,"type":"quantitative","scale":{"domain":[-1.5,170],"range":[0,600],"nice":false,"zero":false},"axis":null},
   "x2":{"datum":176.5},
   "y":{"datum":11070,"type":"quantitative","scale":{"domain":[0,11070],"range":[267,205],"nice":false},"axis":null}}},
 {"data":{"name":"cursor"},"mark":{"type":"rule","stroke":"#c4c4c4","strokeWidth":1},
  "encoding":{"x":{"datum":169.95,"type":"quantitative","scale":{"domain":[-1.5,170],"range":[0,600],"nice":false,"zero":false},"axis":null},
   "y":{"datum":0,"type":"quantitative","scale":{"domain":[0,11070],"range":[267,205],"nice":false},"axis":null},
   "y2":{"datum":11070}}},
 {"data":{"name":"vticks"},"mark":{"type":"text","align":"left","dx":5,"fontSize":5,"font":"Liberation Sans","fill":"#555555"},
  "encoding":{"x":{"datum":169.95,"type":"quantitative","scale":{"domain":[-1.5,170],"range":[0,600],"nice":false,"zero":false},"axis":null},
   "y":{"field":"v","type":"quantitative","scale":{"domain":[0,11070],"range":[267,205],"nice":false},"axis":null},
   "text":{"field":"t"}}},
 {"data":{"name":"vleg"},"transform":[{"filter":"datum.s == 'AMO1'"}],"mark":{"type":"text","align":"left","fontSize":5,"fill":"#555555"},
  "encoding":{"x":{"datum":-1.2,"type":"quantitative","scale":{"domain":[-1.5,170],"range":[0,600],"nice":false,"zero":false},"axis":null},
   "y":{"datum":10180,"type":"quantitative","scale":{"domain":[0,11070],"range":[267,205],"nice":false},"axis":null},
   "text":{"field":"t"}}},
 {"data":{"name":"vleg"},"transform":[{"filter":"datum.s == 'AMO2'"}],"mark":{"type":"text","align":"left","fontSize":5,"fill":"#3393ee"},
  "encoding":{"x":{"datum":36.2,"type":"quantitative","scale":{"domain":[-1.5,170],"range":[0,600],"nice":false,"zero":false},"axis":null},
   "y":{"datum":10180,"type":"quantitative","scale":{"domain":[0,11070],"range":[267,205],"nice":false},"axis":null},
   "text":{"field":"t"}}},
 {"data":{"name":"vleg"},"transform":[{"filter":"datum.s == 'AMO3'"}],"mark":{"type":"text","align":"left","fontSize":5,"fill":"#a848b8"},
  "encoding":{"x":{"datum":49.4,"type":"quantitative","scale":{"domain":[-1.5,170],"range":[0,600],"nice":false,"zero":false},"axis":null},
   "y":{"datum":10180,"type":"quantitative","scale":{"domain":[0,11070],"range":[267,205],"nice":false},"axis":null},
   "text":{"field":"t"}}}
]},
{"layer":[
 {"data":{"name":"seps"},"mark":{"type":"rule","stroke":"#cfcfcf","strokeWidth":1},
  "encoding":{"y":{"field":"n","type":"quantitative","scale":{"domain":[1,31],"range":[14,253.4],"nice":false,"zero":false},"axis":null},
   "x":{"datum":0,"type":"quantitative","scale":{"domain":[0,100],"range":[620,720],"nice":false,"zero":false},"axis":null},
   "x2":{"datum":100}}},
 {"data":{"name":"ttl"},"mark":{"type":"rule","stroke":"#c4c4c4","strokeWidth":1},
  "encoding":{"x":{"datum":1,"type":"quantitative","scale":{"domain":[0,100],"range":[620,720],"nice":false,"zero":false},"axis":null},
   "y":{"datum":-2,"type":"quantitative","scale":{"domain":[1,31],"range":[14,253.4],"nice":false,"zero":false},"axis":null},
   "y2":{"datum":34}}},
 {"data":{"name":"ttl"},"mark":{"type":"text","align":"center","fontSize":6.5,"fontWeight":"bold","fill":"#222222"},
  "encoding":{"x":{"datum":38,"type":"quantitative","scale":{"domain":[0,100],"range":[620,720],"nice":false,"zero":false},"axis":null},
   "y":{"datum":-0.4,"type":"quantitative","scale":{"domain":[1,31],"range":[14,253.4],"nice":false,"zero":false},"axis":null},
   "text":{"field":"t"}}},
 {"data":{"name":"info"},"mark":{"type":"text","align":"left","fontSize":6.6,"font":"Noto Sans CJK SC","fill":"#222222"},
  "encoding":{"x":{"datum":1.8,"type":"quantitative","scale":{"domain":[0,100],"range":[620,720],"nice":false,"zero":false},"axis":null},
   "y":{"field":"n","type":"quantitative","scale":{"domain":[1,31],"range":[14,253.4],"nice":false,"zero":false},"axis":null},
   "text":{"field":"k"}}},
 {"data":{"name":"info"},"mark":{"type":"text","align":"right","fontSize":6,"fontWeight":"bold"},
  "encoding":{"x":{"datum":97.8,"type":"quantitative","scale":{"domain":[0,100],"range":[620,720],"nice":false,"zero":false},"axis":null},
   "y":{"field":"n","type":"quantitative","scale":{"domain":[1,31],"range":[14,253.4],"nice":false,"zero":false},"axis":null},
   "text":{"field":"v"},
   "color":{"field":"d","type":"nominal","scale":{"domain":["up","flat","down","note"],"range":["#ff2a2a","#222222","#119911","#444444"]},"legend":null}}},
 {"data":{"name":"breadth"},"transform":[{"filter":"datum.d == 'up'"}],"mark":{"type":"text","align":"left","fontSize":6,"font":"Noto Sans CJK SC","fill":"#222222"},
  "encoding":{"x":{"datum":1.8,"type":"quantitative","scale":{"domain":[0,100],"range":[620,720],"nice":false,"zero":false},"axis":null},
   "y":{"field":"n","type":"quantitative","scale":{"domain":[1,31],"range":[14,253.4],"nice":false,"zero":false},"axis":null},
   "text":{"field":"k"}}},
 {"data":{"name":"breadth"},"transform":[{"filter":"datum.d == 'up'"}],"mark":{"type":"text","align":"right","fontSize":5.5,"fontWeight":"bold"},
  "encoding":{"x":{"datum":47.5,"type":"quantitative","scale":{"domain":[0,100],"range":[620,720],"nice":false,"zero":false},"axis":null},
   "y":{"field":"n","type":"quantitative","scale":{"domain":[1,31],"range":[14,253.4],"nice":false,"zero":false},"axis":null},
   "text":{"field":"v"},
   "color":{"field":"d","type":"nominal","scale":{"domain":["up","flat","down","note"],"range":["#ff2a2a","#222222","#119911","#444444"]},"legend":null}}},
 {"data":{"name":"breadth"},"transform":[{"filter":"datum.d == 'down'"}],"mark":{"type":"text","align":"left","fontSize":6,"font":"Noto Sans CJK SC","fill":"#222222"},
  "encoding":{"x":{"datum":50,"type":"quantitative","scale":{"domain":[0,100],"range":[620,720],"nice":false,"zero":false},"axis":null},
   "y":{"field":"n","type":"quantitative","scale":{"domain":[1,31],"range":[14,253.4],"nice":false,"zero":false},"axis":null},
   "text":{"field":"k"}}},
 {"data":{"name":"breadth"},"transform":[{"filter":"datum.d == 'down'"}],"mark":{"type":"text","align":"right","fontSize":5.5,"fontWeight":"bold"},
  "encoding":{"x":{"datum":97.8,"type":"quantitative","scale":{"domain":[0,100],"range":[620,720],"nice":false,"zero":false},"axis":null},
   "y":{"field":"n","type":"quantitative","scale":{"domain":[1,31],"range":[14,253.4],"nice":false,"zero":false},"axis":null},
   "text":{"field":"v"},
   "color":{"field":"d","type":"nominal","scale":{"domain":["up","flat","down","note"],"range":["#ff2a2a","#222222","#119911","#444444"]},"legend":null}}},
 {"data":{"name":"ticks"},"mark":{"type":"text","align":"left","fontSize":6,"fontWeight":"bold","fill":"#222222"},
  "encoding":{"x":{"datum":1.8,"type":"quantitative","scale":{"domain":[0,100],"range":[620,720],"nice":false,"zero":false},"axis":null},
   "y":{"field":"n","type":"quantitative","scale":{"domain":[1,31],"range":[14,253.4],"nice":false,"zero":false},"axis":null},
   "text":{"field":"t"}}},
 {"data":{"name":"ticks"},"mark":{"type":"text","align":"right","fontSize":6,"fontWeight":"bold","fill":"#ff2a2a"},
  "encoding":{"x":{"datum":55.5,"type":"quantitative","scale":{"domain":[0,100],"range":[620,720],"nice":false,"zero":false},"axis":null},
   "y":{"field":"n","type":"quantitative","scale":{"domain":[1,31],"range":[14,253.4],"nice":false,"zero":false},"axis":null},
   "text":{"field":"p"}}},
 {"data":{"name":"ticks"},"mark":{"type":"text","align":"right","fontSize":6,"fontWeight":"bold","fill":"#222222"},
  "encoding":{"x":{"datum":97.8,"type":"quantitative","scale":{"domain":[0,100],"range":[620,720],"nice":false,"zero":false},"axis":null},
   "y":{"field":"n","type":"quantitative","scale":{"domain":[1,31],"range":[14,253.4],"nice":false,"zero":false},"axis":null},
   "text":{"field":"v"}}},
 {"data":{"name":"wm"},"mark":{"type":"point","shape":"circle","size":250,"filled":true,"fill":"#a8a8a8","opacity":0.75},
  "encoding":{"x":{"datum":-125,"type":"quantitative","scale":{"domain":[0,100],"range":[620,720],"nice":false,"zero":false},"axis":null},
   "y":{"datum":27.44,"type":"quantitative","scale":{"domain":[1,31],"range":[14,253.4],"nice":false,"zero":false},"axis":null}}},
 {"data":{"name":"wm"},"mark":{"type":"point","shape":"circle","size":170,"filled":true,"fill":"#a8a8a8","stroke":"#ffffff","strokeWidth":1.2,"opacity":0.85},
  "encoding":{"x":{"datum":-112,"type":"quantitative","scale":{"domain":[0,100],"range":[620,720],"nice":false,"zero":false},"axis":null},
   "y":{"datum":28.44,"type":"quantitative","scale":{"domain":[1,31],"range":[14,253.4],"nice":false,"zero":false},"axis":null}}},
 {"data":{"name":"wm"},"mark":{"type":"text","align":"left","fontSize":18,"font":"Noto Sans CJK SC","fill":"#8c8c8c","opacity":0.6},
  "encoding":{"x":{"datum":-100,"type":"quantitative","scale":{"domain":[0,100],"range":[620,720],"nice":false,"zero":false},"axis":null},
   "y":{"datum":27.8,"type":"quantitative","scale":{"domain":[1,31],"range":[14,253.4],"nice":false,"zero":false},"axis":null},
   "text":{"field":"t"}}}
]},
{"layer":[
 {"data":{"name":"tools"},"mark":{"type":"text","align":"left","fontSize":5.5,"font":"Noto Sans CJK SC"},
  "encoding":{"x":{"field":"t","type":"nominal","sort":null,"scale":{"type":"point","range":[4,268],"padding":0},"axis":null},
   "y":{"datum":"tools","type":"nominal","scale":{"type":"point","domain":["tools","ma"],"range":[1.5,8.5],"padding":0},"axis":null},
   "text":{"field":"t"},
   "color":{"condition":{"test":"datum.on","value":"#ff2020"},"value":"#333333"}}},
 {"data":{"name":"tools2"},"mark":{"type":"text","align":"left","fontSize":5.5,"font":"Noto Sans CJK SC","fill":"#333333"},
  "encoding":{"x":{"field":"t","type":"nominal","sort":null,"scale":{"type":"point","range":[490,608],"padding":0},"axis":null},
   "y":{"datum":"tools","type":"nominal","scale":{"type":"point","domain":["tools","ma"],"range":[1.5,8.5],"padding":0},"axis":null},
   "text":{"field":"t"}}},
 {"layer":[
  {"data":{"name":"maleg"},"mark":{"type":"text","align":"left","fontSize":5},
   "encoding":{"x":{"field":"s","type":"nominal","scale":{"type":"point","domain":["MA5","MA10","MA20","MA60","MA120","MA240"],"range":[50,232],"padding":0},"axis":null},
    "y":{"datum":"ma","type":"nominal","scale":{"type":"point","domain":["tools","ma"],"range":[1.5,8.5],"padding":0},"axis":null},
    "text":{"field":"t"},
    "color":{"field":"s","type":"nominal","scale":{"domain":["MA5","MA10","MA20","MA60","MA120","MA240"],"range":["#555555","#3390ee","#a838b8","#999999","#2a9a2a","#30c8d0"]},"legend":null}}},
  {"data":{"name":"pre"},"mark":{"type":"text","align":"right","dx":-2,"fontSize":5.5,"fill":"#444444"},
   "encoding":{"x":{"datum":"MA5","type":"nominal","scale":{"type":"point","domain":["MA5","MA10","MA20","MA60","MA120","MA240"],"range":[50,232],"padding":0},"axis":null},
    "y":{"datum":"ma","type":"nominal","scale":{"type":"point","domain":["tools","ma"],"range":[1.5,8.5],"padding":0},"axis":null},
    "text":{"field":"t"}}}
 ]}
],"resolve":{"scale":{"x":"independent"}}}
]
}
